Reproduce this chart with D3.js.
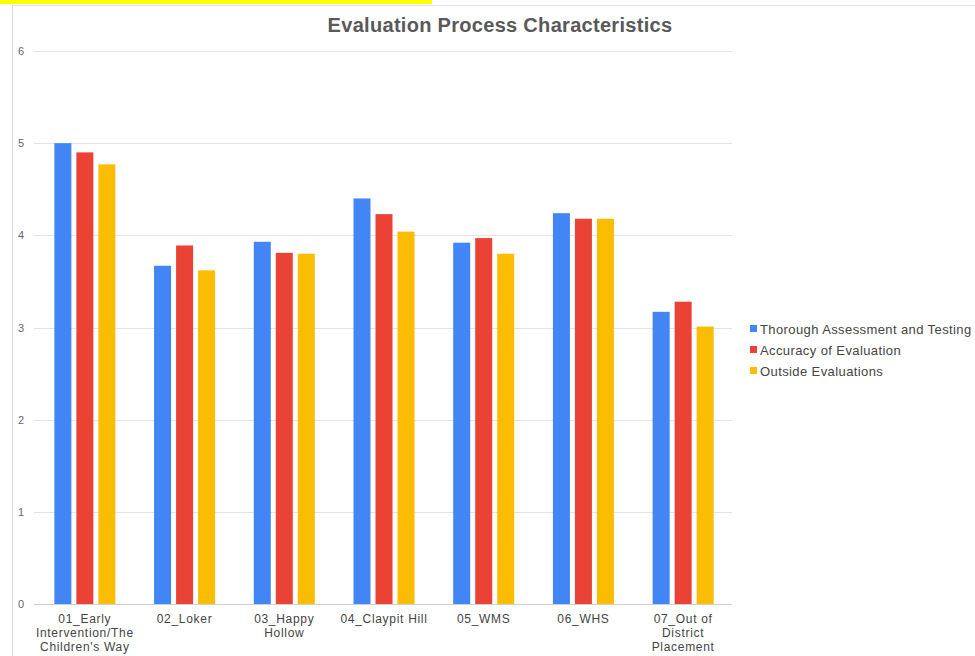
<!DOCTYPE html>
<html>
<head>
<meta charset="utf-8">
<script src="https://cdn.jsdelivr.net/npm/d3@7"></script>
<style>
  html, body { margin: 0; padding: 0; background: #fff; }
  svg { display: block; font-family: "Liberation Sans", Arial, sans-serif; }
</style>
</head>
<body>
<svg id="chart" width="975" height="656"></svg>
<script>
// Schools / programs on the x axis
const categories = [
  "01_Early Intervention/The Children's Way",
  "02_Loker",
  "03_Happy Hollow",
  "04_Claypit Hill",
  "05_WMS",
  "06_WHS",
  "07_Out of District Placement"
];
// Wrapped label lines for each category
const categoryLines = [
  ["01_Early", "Intervention/The", "Children's Way"],
  ["02_Loker"],
  ["03_Happy", "Hollow"],
  ["04_Claypit Hill"],
  ["05_WMS"],
  ["06_WHS"],
  ["07_Out of", "District", "Placement"]
];
const seriesNames = [
  "Thorough Assessment and Testing",
  "Accuracy of Evaluation",
  "Outside Evaluations"
];
const thorough = [5.00, 3.67, 3.93, 4.40, 3.92, 4.24, 3.17];
const accuracy = [4.90, 3.89, 3.81, 4.23, 3.97, 4.18, 3.28];
const outside  = [4.77, 3.62, 3.80, 4.04, 3.80, 4.18, 3.01];
const yTicks = [0, 1, 2, 3, 4, 5, 6];
const colors = ["#4285F4", "#EA4335", "#FBBC04"];

const series = [thorough, accuracy, outside];

const svg = d3.select("#chart");

// highlighted strip along the top edge
svg.append("rect").attr("x", 0).attr("y", 0).attr("width", 432).attr("height", 4)
  .attr("fill", "#ffff00");

// frame lines
svg.append("line").attr("x1", 12.5).attr("x2", 12.5).attr("y1", 5).attr("y2", 656)
  .attr("stroke", "#dcdcdc");
svg.append("line").attr("x1", 12).attr("x2", 975).attr("y1", 5.5).attr("y2", 5.5)
  .attr("stroke", "#e6e6e6");

const x0 = d3.scaleBand().domain(categories).range([35, 733]).paddingInner(0).paddingOuter(0);
const y = d3.scaleLinear().domain([0, 6]).range([604, 51]);

// gridlines
svg.append("g").selectAll("line").data(yTicks).join("line")
  .attr("x1", 34).attr("x2", 732)
  .attr("y1", d => Math.round(y(d)) + 0.5).attr("y2", d => Math.round(y(d)) + 0.5)
  .attr("stroke", d => d === 0 ? "#cfcfcf" : "#e2e2e2");

// y tick labels
svg.append("g").selectAll("text").data(yTicks).join("text")
  .attr("x", 21).attr("y", d => y(d) + 4)
  .attr("text-anchor", "middle")
  .attr("font-size", 11).attr("fill", "#666")
  .text(d => d);

// bars
const barW = 17, gap = 5;
const groupW = barW * 3 + gap * 2;
series.forEach((vals, si) => {
  svg.append("g").selectAll("rect").data(vals).join("rect")
    .attr("x", (d, i) => x0(categories[i]) + x0.bandwidth() / 2 - groupW / 2 + si * (barW + gap))
    .attr("y", d => y(d))
    .attr("width", barW)
    .attr("height", d => y(0) - y(d))
    .attr("fill", colors[si]);
});

// category labels
const lab = svg.append("g").selectAll("text").data(categories).join("text")
  .attr("x", d => x0(d) + x0.bandwidth() / 2)
  .attr("y", 623)
  .attr("text-anchor", "middle")
  .attr("font-size", 12).attr("letter-spacing", 0.7).attr("fill", "#444");
lab.each(function(d, i) {
  const t = d3.select(this);
  categoryLines[i].forEach((line, li) => {
    t.append("tspan").attr("x", x0(d) + x0.bandwidth() / 2)
      .attr("dy", li === 0 ? 0 : 14).text(line);
  });
});

// title
svg.append("text").attr("x", 500).attr("y", 32)
  .attr("text-anchor", "middle").attr("font-size", 20).attr("font-weight", "bold")
  .attr("letter-spacing", 0.3)
  .attr("fill", "#595959")
  .text("Evaluation Process Characteristics");

// legend
const lg = svg.append("g").selectAll("g").data(seriesNames).join("g")
  .attr("transform", (d, i) => `translate(750, ${329 + i * 21})`);
lg.append("rect").attr("x", 0).attr("y", -4).attr("width", 7).attr("height", 7)
  .attr("fill", (d, i) => colors[i]);
lg.append("text").attr("x", 10).attr("y", 4.5)
  .attr("font-size", 13).attr("letter-spacing", 0.4).attr("fill", "#444")
  .text(d => d);
</script>
</body>
</html>
